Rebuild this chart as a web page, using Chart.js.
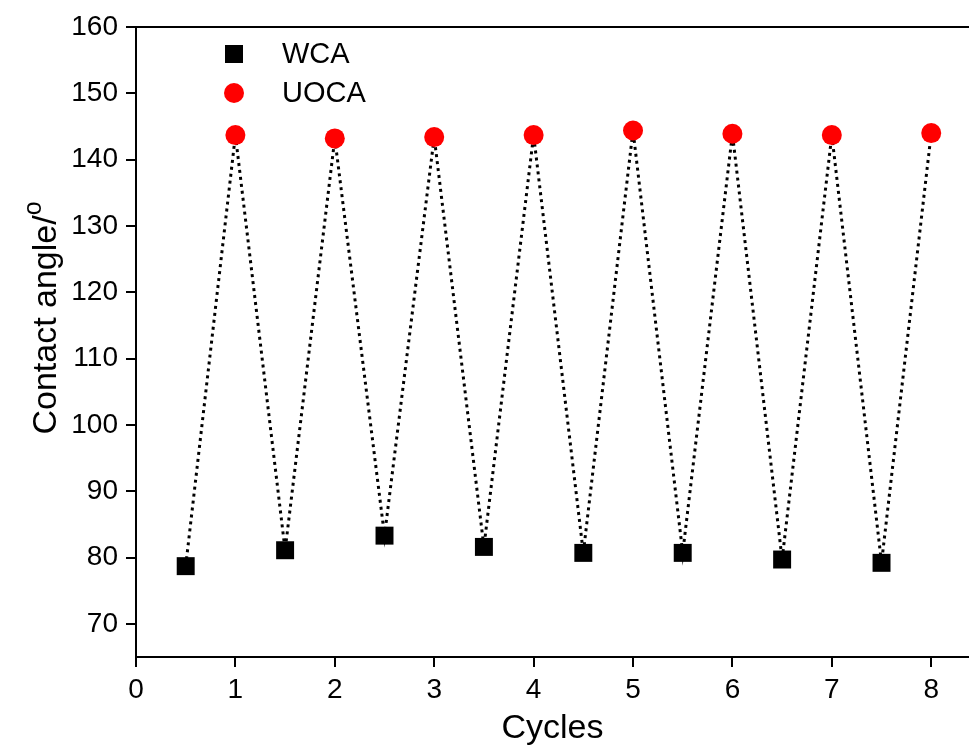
<!DOCTYPE html>
<html>
<head>
<meta charset="utf-8">
<script src="https://cdn.jsdelivr.net/npm/chart.js@4"></script>
<style>
  html, body { margin: 0; padding: 0; background: #fff; }
  canvas { display: block; }
</style>
</head>
<body>
<canvas id="c" width="969" height="749"></canvas>
<script>
// 데이터 — 그림에서 읽은 값
const wcaX = [0.5, 1.5, 2.5, 3.5, 4.5, 5.5, 6.5, 7.5];
const wcaY = [78.7, 81.1, 83.3, 81.6, 80.7, 80.7, 79.7, 79.2];
const uocaX = [1, 2, 3, 4, 5, 6, 7, 8];
const uocaY = [143.7, 143.2, 143.4, 143.7, 144.4, 143.9, 143.7, 144.0];
const xTicks = [0, 1, 2, 3, 4, 5, 6, 7, 8];
const yTicks = [70, 80, 90, 100, 110, 120, 130, 140, 150, 160];

const FONT = "'Liberation Sans', Arial, sans-serif";
const pts = (xs, ys) => xs.map((x, i) => ({ x, y: ys[i] }));
const wca = pts(wcaX, wcaY), uoca = pts(uocaX, uocaY);
const path = wca.concat(uoca).sort((a, b) => a.x - b.x);

// 범례 + 위쪽 테두리 + y축 제목(윗첨자 o)
const deco = {
  id: "deco",
  afterDraw(chart) {
    const { ctx, chartArea: a } = chart;
    ctx.save();
    ctx.strokeStyle = "#000"; ctx.lineWidth = 2;
    ctx.beginPath(); ctx.moveTo(a.left, a.top); ctx.lineTo(chart.width, a.top); ctx.stroke();

    ctx.font = "29px " + FONT; ctx.textBaseline = "middle"; ctx.fillStyle = "#000";
    ctx.fillRect(234 - 9, 54 - 9, 18, 18);
    ctx.fillText("WCA", 282, 55);
    ctx.fillStyle = "#ff0000"; ctx.beginPath(); ctx.arc(234, 93, 10, 0, Math.PI * 2); ctx.fill();
    ctx.fillStyle = "#000"; ctx.fillText("UOCA", 282, 94);

    ctx.translate(56, 318); ctx.rotate(-Math.PI / 2);
    ctx.textBaseline = "alphabetic";
    ctx.font = "34px " + FONT;
    const main = "Contact angle/", w = ctx.measureText(main).width;
    ctx.font = "25px " + FONT;
    const sw = ctx.measureText("o").width;
    const x0 = -(w + sw) / 2;
    ctx.font = "34px " + FONT; ctx.fillText(main, x0, 0);
    ctx.font = "25px " + FONT; ctx.fillText("o", x0 + w, -15);
    ctx.restore();
  }
};

const axisCommon = {
  type: "linear",
  grid: { display: true, drawOnChartArea: false, drawTicks: true, tickLength: 10, color: "#000", lineWidth: 2 },
  border: { display: true, color: "#000", width: 2 },
};

new Chart(document.getElementById("c"), {
  type: "scatter",
  data: {
    datasets: [
      { label: "line", data: path, showLine: true, borderColor: "#000", borderWidth: 3, borderDash: [3, 4],
        pointRadius: 0, fill: false, order: 3 },
      { label: "WCA", data: wca, pointStyle: "rect", pointRadius: 12.7, backgroundColor: "#000", borderWidth: 0, order: 2 },
      { label: "UOCA", data: uoca, pointStyle: "circle", pointRadius: 10, backgroundColor: "#ff0000", borderWidth: 0, order: 1 }
    ]
  },
  options: {
    responsive: false, animation: false, clip: false,
    layout: { autoPadding: false, padding: { top: 27, left: 0, right: 0, bottom: 0 } },
    plugins: { legend: { display: false }, tooltip: { enabled: false } },
    scales: {
      x: Object.assign({}, axisCommon, {
        min: 0, max: 8.38,
        afterBuildTicks: (s) => { s.ticks = xTicks.map((v) => ({ value: v })); },
        afterFit: (s) => { s.height = 92; },
        ticks: { color: "#000", font: { size: 28, family: FONT }, padding: 6, maxRotation: 0 },
        title: { display: true, text: "Cycles", color: "#000", font: { size: 34, family: FONT }, padding: { top: 0, bottom: 0 } }
      }),
      y: Object.assign({}, axisCommon, {
        min: 65, max: 160,
        afterBuildTicks: (s) => { s.ticks = yTicks.map((v) => ({ value: v })); },
        afterFit: (s) => { s.width = 136; },
        ticks: { color: "#000", font: { size: 28, family: FONT }, padding: 8 }
      })
    }
  },
  plugins: [deco]
});
</script>
</body>
</html>
